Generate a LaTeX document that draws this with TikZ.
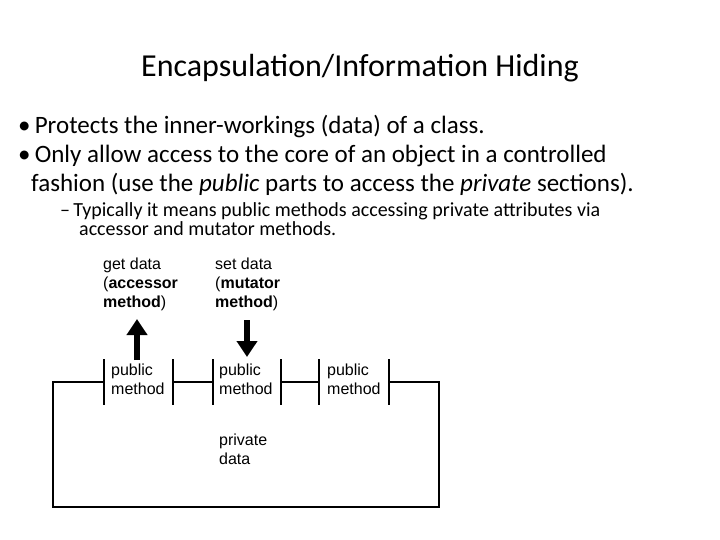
\documentclass[tikz,border=0pt]{standalone}
\usepackage{fontspec}
\setmainfont{Carlito}
\newfontfamily\arial{Liberation Sans}
\usetikzlibrary{positioning,arrows.meta}
\begin{document}
\begin{tikzpicture}[x=1pt,y=-1pt,
	txt/.style={anchor=north west,inner sep=0pt,align=left},
	lbl/.style={anchor=north west,inner sep=0pt,align=left,font=\arial\fontsize{16}{19}\selectfont},
	bar/.style={line width=2.2pt},
	wall/.style={line width=2.2pt},
	fat/.style={line width=6pt,-{Triangle[length=16pt,width=20pt]}}]
	\useasboundingbox (0,0) rectangle (720,540);
	%TITLE
	\node[inner sep=0pt,font=\fontsize{32}{36}\selectfont] (title) at (360,68) {Encapsulation/Information Hiding};
	
	%BULLETS
	\node[txt,font=\fontsize{25}{29}\selectfont] (pts) at (18,115) {\textbullet\,Protects the inner-workings (data) of a class.\\
	\textbullet\,Only allow access to the core of an object in a controlled\\
	\hspace*{13pt}fashion (use the \textit{public} parts to access the \textit{private} sections).};
	\node[txt,font=\fontsize{20}{19}\selectfont] (sub) at (60,202) {--\,Typically it means public methods accessing private attributes via\\
	\hspace*{19pt}accessor and mutator methods.};
	
	%BOX
	\draw[wall] (104,382) -- (53,382) -- (53,507) -- (439,507) -- (439,382) -- (389,382);
	\draw[wall] (173,382) -- (213,382);
	\draw[wall] (281,382) -- (319,382);
	\foreach \x in {104,173,213,281,319,389}
	\draw[bar] (\x,359) -- (\x,405);
	
	%LABELS
	\node[lbl] (pm1) at (111,364) {public\\method};
	\node[lbl] (pm2) at (219,364) {public\\method};
	\node[lbl] (pm3) at (327,364) {public\\method};
	\node[lbl] (priv) at (219,434) {private\\data};
	\node[lbl] (get) at (103,258) {get data\\(\textbf{accessor}\\\textbf{method})};
	\node[lbl] (set) at (215,258) {set data\\(\textbf{mutator}\\\textbf{method})};
	
	%ARROWS
	\coordinate (gtip) at (137,319);
	\coordinate (stip) at (247,357);
	\draw[fat] (137,360) -- (gtip);
	\draw[fat] (247,320) -- (stip);
\end{tikzpicture}
\end{document}
